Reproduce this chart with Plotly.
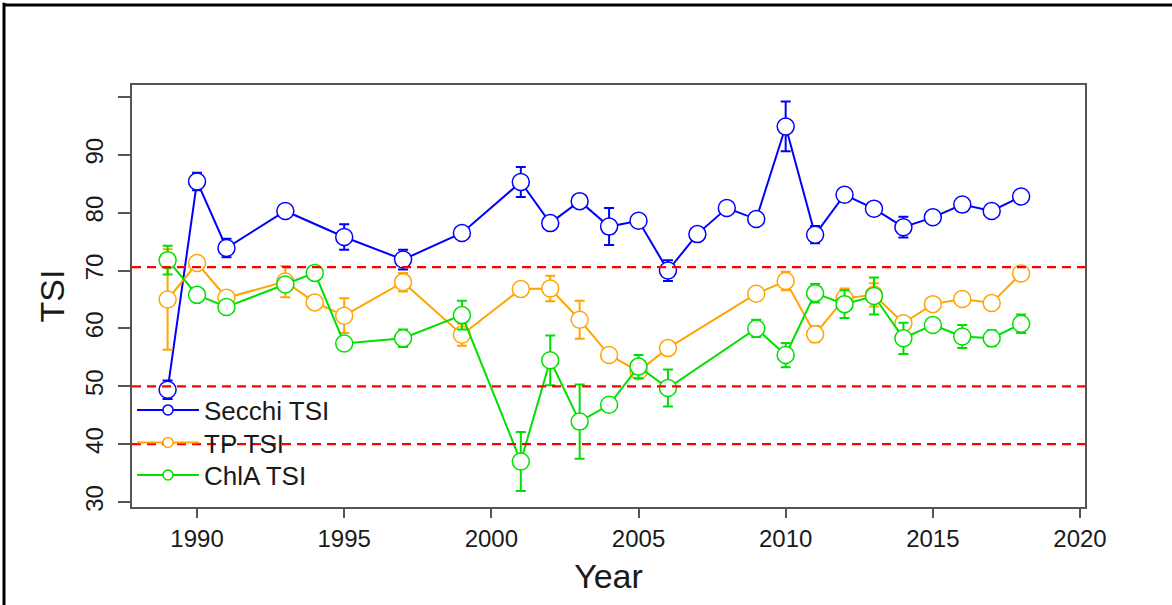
import plotly.graph_objects as go

# ---------------- data ----------------
years_secchi = [1989, 1990, 1991, 1993, 1995, 1997, 1999, 2001, 2002, 2003, 2004, 2005,
                2006, 2007, 2008, 2009, 2010, 2011, 2012, 2013, 2014, 2015, 2016, 2017, 2018]
secchi_tsi = [49.4, 85.4, 73.9, 80.3, 75.8, 71.9, 76.5, 85.3, 78.2, 82.0, 77.6, 78.6,
              70.0, 76.3, 80.8, 78.9, 94.9, 76.2, 83.1, 80.7, 77.5, 79.2, 81.4, 80.3, 82.8]
secchi_err = [1.6, 1.5, 1.6, 0.5, 2.2, 1.7, 0.5, 2.6, 0.5, 0.5, 3.2, 0.5,
              1.8, 0.3, 0.3, 0.3, 4.3, 1.5, 0.5, 0.5, 1.8, 0.3, 0.3, 0.3, 0.3]

years_tp = [1989, 1990, 1991, 1993, 1994, 1995, 1997, 1999, 2001, 2002, 2003, 2004,
            2005, 2006, 2009, 2010, 2011, 2012, 2013, 2014, 2015, 2016, 2017, 2018]
tp_tsi = [65.0, 71.3, 65.3, 68.1, 64.5, 62.2, 68.0, 58.9, 66.8, 66.9, 61.5, 55.4,
          52.6, 56.6, 66.0, 68.2, 59.0, 65.2, 65.8, 60.9, 64.2, 65.1, 64.4, 69.5]
tp_err = [8.7, 1.0, 1.0, 2.7, 0.5, 3.0, 1.6, 1.9, 1.0, 2.2, 3.3, 0.5,
          1.0, 0.5, 1.0, 1.6, 1.4, 1.7, 2.0, 1.0, 0.5, 0.8, 0.8, 0.5]

years_chla = [1989, 1990, 1991, 1993, 1994, 1995, 1997, 1999, 2001, 2002, 2003, 2004,
              2005, 2006, 2009, 2010, 2011, 2012, 2013, 2014, 2015, 2016, 2017, 2018]
chla_tsi = [71.8, 65.8, 63.7, 67.6, 69.6, 57.4, 58.3, 62.3, 37.0, 54.5, 43.9, 46.8,
            53.4, 49.7, 60.0, 55.4, 66.1, 64.2, 65.6, 58.3, 60.6, 58.6, 58.3, 60.8]
chla_err = [2.5, 0.5, 0.5, 0.5, 0.5, 1.0, 1.5, 2.5, 5.1, 4.3, 6.4, 0.5,
            2.0, 3.2, 1.5, 2.1, 1.6, 2.4, 3.2, 2.7, 0.8, 2.0, 1.4, 1.6]

threshold_levels = [70.6, 50, 40]

series_names = ["Secchi TSI", "TP TSI", "ChlA TSI"]
series_colors = ["#0000FF", "#FFA500", "#00E000"]

y_tickvals = [30, 40, 50, 60, 70, 80, 90, 100]
y_ticktext = ["30", "40", "50", "60", "70", "80", "90", ""]
x_tickvals = [1990, 1995, 2000, 2005, 2010, 2015, 2020]

# ---------------- figure ----------------
FONT = "Liberation Sans, Arial, Helvetica, sans-serif"
TXT = "#1a1a1a"
fig = go.Figure()

for name, color, xs, ys, es in zip(
        series_names, series_colors,
        [years_secchi, years_tp, years_chla],
        [secchi_tsi, tp_tsi, chla_tsi],
        [secchi_err, tp_err, chla_err]):
    fig.add_trace(go.Scatter(
        x=xs, y=ys, name=name, mode="lines+markers", showlegend=False,
        line=dict(color=color, width=2),
        marker=dict(symbol="circle", size=17, color="white",
                    line=dict(color=color, width=1.5)),
        error_y=dict(type="data", array=es, visible=True, color=color,
                     thickness=2, width=5),
    ))

# legend entries (one small legend per series, like the R legend)
legend_ids = ["legend", "legend2", "legend3"]
for name, color, lid in zip(series_names, series_colors, legend_ids):
    fig.add_trace(go.Scatter(
        x=[None], y=[None], name=name, mode="lines+markers", showlegend=True,
        legend=lid,
        line=dict(color=color, width=2),
        marker=dict(symbol="circle", size=10, color="white",
                    line=dict(color=color, width=1.5)),
    ))

for lvl in threshold_levels:
    fig.add_hline(y=lvl, line=dict(color="#FF0000", width=2.2, dash="9px,6px"),
                  layer="above")

# outer frame (left and top edges of the picture)
fig.add_shape(type="line", xref="paper", yref="paper",
              x0=-0.1343, x1=-0.1343, y0=-0.24, y1=1.195,
              line=dict(color="black", width=3))
fig.add_shape(type="line", xref="paper", yref="paper",
              x0=-0.1343, x1=1.1, y0=1.1896, y1=1.1896,
              line=dict(color="black", width=3))

legend_style = dict(x=0.0, xanchor="left", yanchor="middle",
                    bgcolor="rgba(0,0,0,0)", itemwidth=62, itemsizing="trace",
                    font=dict(size=26, family=FONT, color=TXT))

fig.update_layout(
    width=1172, height=605,
    margin=dict(l=132, r=87, t=85, b=98),
    paper_bgcolor="white", plot_bgcolor="white",
    font=dict(family=FONT, color=TXT),
    showlegend=True,
    legend=dict(y=0.2299, **legend_style),
    legend2=dict(y=0.1528, **legend_style),
    legend3=dict(y=0.0758, **legend_style),
    xaxis=dict(
        range=[1987.79, 2020.17], tickvals=x_tickvals,
        showgrid=False, zeroline=False,
        showline=True, linecolor="#555", linewidth=1.5, mirror=True,
        ticks="outside", ticklen=9, tickwidth=1.5, tickcolor="#555",
        tickfont=dict(size=24, family=FONT, color=TXT),
        ticklabelstandoff=0,
        title=dict(text="Year", font=dict(size=34, family=FONT, color=TXT),
                   standoff=14),
    ),
    yaxis=dict(
        range=[29.14, 102.07], tickvals=y_tickvals, ticktext=y_ticktext,
        showgrid=False, zeroline=False,
        showline=True, linecolor="#555", linewidth=1.5, mirror=True,
        ticks="outside", ticklen=12, tickwidth=1.5, tickcolor="#555",
        tickangle=-90,
        tickfont=dict(size=24, family=FONT, color=TXT),
        ticklabelstandoff=6,
        title=dict(text="TSI", font=dict(size=34, family=FONT, color=TXT),
                   standoff=6),
    ),
)

fig.write_html("out.html", config={"displayModeBar": False},
               post_script="document.body.style.margin='0';document.body.style.overflow='hidden';")
